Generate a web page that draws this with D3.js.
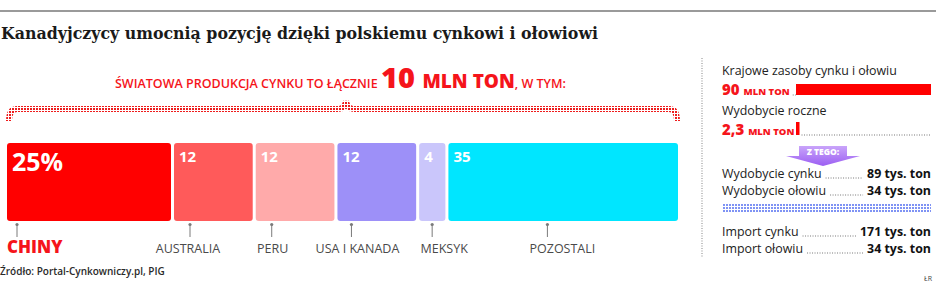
<!DOCTYPE html>
<html>
<head>
<meta charset="utf-8">
<script src="https://cdn.jsdelivr.net/npm/d3@7"></script>
<style>
  body { margin: 0; background: #fff; }
  svg { display: block; font-family: "Open Sans", sans-serif; }
</style>
</head>
<body>
<svg id="chart" width="936" height="284"></svg>
<script>
// data
const countries = ["CHINY", "AUSTRALIA", "PERU", "USA I KANADA", "MEKSYK", "POZOSTALI"];
const shares = [25, 12, 12, 12, 4, 35];
const totalProduction = "10";
const reserveLabels = ["Krajowe zasoby cynku i ołowiu", "Wydobycie roczne"];
const reserveValues = [90, 2.3];
const miningLabels = ["Wydobycie cynku", "Wydobycie ołowiu"];
const miningValues = [89, 34];
const importLabels = ["Import cynku", "Import ołowiu"];
const importValues = [171, 34];

// styles / layout
const barColors = ["#ff0000", "#ff5a5a", "#ffaaaa", "#9d90f8", "#cac6fb", "#00e6ff"];
const pinOffset = [10, 16, 16, 14, 13, 99];
const labelShift = [0, -2, 1, 6, 12, 15];
const RED = "#f5141b";

const svg = d3.select("#chart");
const defs = svg.append("defs");

const redDots = defs.append("pattern").attr("id", "redDots")
  .attr("patternUnits", "userSpaceOnUse").attr("width", 3).attr("height", 3);
redDots.append("rect").attr("width", 2).attr("height", 2).attr("fill", "#ee1c1c");

const blueDots = defs.append("pattern").attr("id", "blueDots")
  .attr("patternUnits", "userSpaceOnUse").attr("width", 3).attr("height", 3);
blueDots.append("rect").attr("width", 2).attr("height", 2).attr("fill", "#7f93f4");

const purple = defs.append("linearGradient").attr("id", "purple")
  .attr("x1", 0).attr("y1", 0).attr("x2", 0).attr("y2", 1);
purple.append("stop").attr("offset", "0%").attr("stop-color", "#c9a4fa");
purple.append("stop").attr("offset", "100%").attr("stop-color", "#9b5ef2");

// header
svg.append("line").attr("x1", 0).attr("x2", 936).attr("y1", 11).attr("y2", 11)
  .attr("stroke", "#9a9a9a").attr("stroke-width", 2);

svg.append("text").attr("x", 1).attr("y", 39)
  .attr("font-family", "'DejaVu Serif', serif").attr("font-weight", "bold")
  .attr("font-size", 17.5).attr("fill", "#1a1a1a")
  .attr("textLength", 597).attr("lengthAdjust", "spacingAndGlyphs")
  .text("Kanadyjczycy umocnią pozycję dzięki polskiemu cynkowi i ołowiowi");

// headline of the left part
const head = svg.append("text").attr("x", 115).attr("y", 88).attr("fill", RED);
head.append("tspan").attr("font-size", 12.5).attr("font-weight", 600)
  .text("ŚWIATOWA PRODUKCJA CYNKU TO ŁĄCZNIE ");
head.append("tspan").attr("font-size", 29).attr("font-weight", 800).text(totalProduction + " ");
head.append("tspan").attr("font-size", 19).attr("font-weight", 800).text("MLN TON");
head.append("tspan").attr("font-size", 12.5).attr("font-weight", 600).text(", W TYM:");

// bars
const left = 7, right = 678, gap = 3;
const x = d3.scaleLinear()
  .domain([0, d3.sum(shares)])
  .range([0, right - left - gap * (shares.length - 1)]);
const cum = d3.cumsum(shares);
const bars = shares.map((v, i) => {
  const x0 = left + x(cum[i] - v) + gap * i;
  return { name: countries[i], value: v, x0: x0, w: x(v), i: i };
});

// brace over the bars
const braceY = 109, mid = left + x(d3.sum(shares) / 2) + gap * 2 + 5;
svg.append("path")
  .attr("d", `M${left + 2},121 Q${left + 2},${braceY} ${left + 10},${braceY} L${mid - 8},${braceY}
    Q${mid - 1},${braceY} ${mid},${braceY - 8} Q${mid + 1},${braceY} ${mid + 8},${braceY}
    L${right - 9},${braceY} Q${right - 1},${braceY} ${right - 1},121`)
  .attr("fill", "none").attr("stroke", "url(#redDots)").attr("stroke-width", 6);

const barTop = 143, barBottom = 221;
svg.selectAll(".bar").data(bars).enter().append("rect")
  .attr("class", "bar")
  .attr("x", d => d.x0).attr("y", barTop)
  .attr("width", d => d.w).attr("height", barBottom - barTop)
  .attr("rx", 3).attr("fill", (d, i) => barColors[i]);

svg.selectAll(".val").data(bars).enter().append("text")
  .attr("class", "val")
  .attr("x", d => d.x0 + 5)
  .attr("y", d => d.i === 0 ? 171 : 162)
  .attr("font-size", d => d.i === 0 ? 25 : 15)
  .attr("font-weight", 700).attr("fill", "#fff")
  .text(d => d.i === 0 ? d.value + "%" : d.value);

// pins
const pins = svg.selectAll(".pin").data(bars).enter().append("g")
  .attr("class", "pin")
  .attr("transform", d => `translate(${d.x0 + pinOffset[d.i]},0)`);
pins.append("line").attr("y1", 224).attr("y2", 237)
  .attr("stroke", "#7a7a7a").attr("stroke-width", 1);
pins.append("circle").attr("cy", 224.5).attr("r", 1.6).attr("fill", "#7a7a7a");

svg.selectAll(".cname").data(bars).enter().append("text")
  .attr("class", "cname")
  .attr("x", d => d.i === 0 ? d.x0 : d.x0 + pinOffset[d.i] + labelShift[d.i])
  .attr("y", 253)
  .attr("text-anchor", d => d.i === 0 ? "start" : "middle")
  .attr("font-size", d => d.i === 0 ? 17 : 12.5)
  .attr("font-weight", d => d.i === 0 ? 800 : 400)
  .attr("fill", d => d.i === 0 ? RED : "#4a4a4a")
  .text(d => d.name);

svg.append("text").attr("x", 0).attr("y", 275)
  .attr("font-size", 10).attr("font-weight", 600).attr("fill", "#2a2a2a")
  .text("Źródło: Portal-Cynkowniczy.pl, PIG");

// right panel
svg.append("line").attr("x1", 702).attr("x2", 702).attr("y1", 58).attr("y2", 258)
  .attr("stroke", "#9a9a9a").attr("stroke-width", 1.2).attr("stroke-dasharray", "1,1.5");

const rx = 722, rEnd = 931, barX = 796;
const w = d3.scaleLinear().domain([0, reserveValues[0]]).range([0, rEnd - barX]);
const dotted = (x1, x2, y) => svg.append("line")
  .attr("x1", x1).attr("x2", x2).attr("y1", y).attr("y2", y)
  .attr("stroke", "#777").attr("stroke-width", 1).attr("stroke-dasharray", "1,1.5");

reserveLabels.forEach((lab, i) => {
  const y0 = 75 + i * 40;
  svg.append("text").attr("x", rx).attr("y", y0)
    .attr("font-size", 12.4).attr("fill", "#222").text(lab);
  const t = svg.append("text").attr("x", rx).attr("y", y0 + 20).attr("fill", RED).attr("font-weight", 800);
  t.append("tspan").attr("font-size", 15).text(String(reserveValues[i]).replace(".", ",") + " ");
  t.append("tspan").attr("font-size", 9.5).text("MLN TON");
  const tEnd = rx + t.node().getComputedTextLength();
  const bw = Math.max(w(reserveValues[i]), 3.5);
  if (tEnd + 3 < barX - 1) dotted(tEnd + 3, barX, y0 + 20);
  svg.append("rect").attr("x", barX).attr("y", y0 + 20 - (i === 0 ? 11 : 13))
    .attr("width", bw).attr("height", i === 0 ? 11 : 13).attr("fill", "#ff0000");
  if (barX + bw < rEnd) dotted(barX + bw + 2, rEnd, y0 + 20);
});

// "Z TEGO:" arrow
const zt = svg.append("g");
zt.append("path").attr("d", "M799,146 L847,146 L847,156 L860,156 L823,166 L786,156 L799,156 Z")
  .attr("fill", "url(#purple)");
zt.append("text").attr("x", 823).attr("y", 155).attr("text-anchor", "middle")
  .attr("font-size", 8.5).attr("font-weight", 800).attr("fill", "#fff").text("Z TEGO:");

function rows(labels, values, y0) {
  labels.forEach((lab, i) => {
    const y = y0 + i * 17;
    const l = svg.append("text").attr("x", rx).attr("y", y)
      .attr("font-size", 12.4).attr("fill", "#222").text(lab);
    const v = svg.append("text").attr("x", rEnd).attr("y", y).attr("text-anchor", "end")
      .attr("font-size", 12.4).attr("font-weight", 700).attr("fill", "#111")
      .text(values[i] + " tys. ton");
    const lEnd = rx + l.node().getComputedTextLength();
    const vStart = rEnd - v.node().getComputedTextLength();
    dotted(lEnd + 4, vStart - 4, y);
  });
}
rows(miningLabels, miningValues, 178);

svg.append("rect").attr("x", rx).attr("y", 204).attr("width", rEnd - rx).attr("height", 9)
  .attr("fill", "url(#blueDots)");

rows(importLabels, importValues, 236);

svg.append("text").attr("x", 932).attr("y", 281).attr("text-anchor", "end")
  .attr("font-size", 7).attr("fill", "#444").text("ŁR");
</script>
</body>
</html>
